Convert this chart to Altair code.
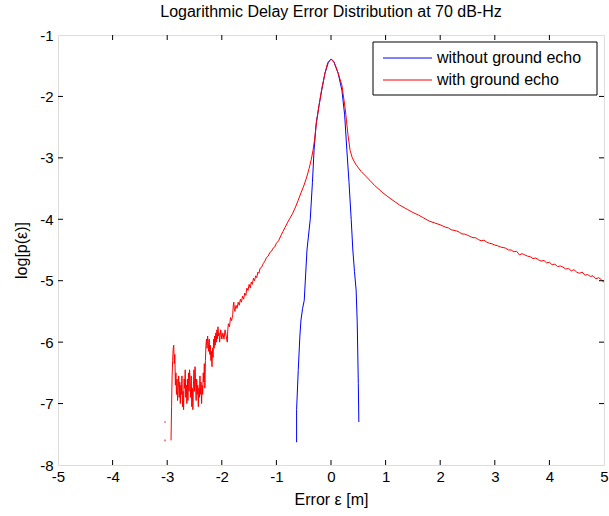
import altair as alt
import pandas as pd

# Delay error distribution without ground echo (blue)
blue_x = [-0.63, -0.63, -0.60, -0.57, -0.55, -0.52, -0.49, -0.44, -0.38, -0.34,
          -0.31, -0.27, -0.22, -0.17, -0.11, -0.05, 0.0, 0.05, 0.13, 0.20,
          0.25, 0.29, 0.33, 0.37, 0.40, 0.43, 0.46, 0.48, 0.50, 0.51]
blue_y = [-7.63, -7.10, -6.46, -5.90, -5.64, -5.45, -5.32, -4.50, -4.00, -3.40,
          -2.87, -2.43, -2.15, -1.90, -1.62, -1.45, -1.39, -1.43, -1.62, -1.90,
          -2.30, -2.87, -3.40, -4.00, -4.50, -4.85, -5.15, -5.67, -6.67, -7.30]

# With ground echo (red): sparse, noisy far-left tail
red_tail_x = [-2.93, -2.92, -2.91, -2.90, -2.89, -2.88, -2.87, -2.86, -2.85, -2.84,
              -2.83, -2.82, -2.81, -2.80, -2.79, -2.78, -2.77, -2.76, -2.75, -2.74,
              -2.73, -2.72, -2.71, -2.70, -2.69, -2.68, -2.67, -2.66, -2.65, -2.64,
              -2.63, -2.62, -2.61, -2.60, -2.59, -2.58, -2.57, -2.56, -2.55, -2.54,
              -2.53, -2.52, -2.51, -2.50, -2.49, -2.48, -2.47, -2.46, -2.45, -2.44,
              -2.43, -2.42, -2.41, -2.40, -2.39, -2.38, -2.37, -2.36, -2.35, -2.34,
              -2.33, -2.32, -2.31, -2.30, -2.29, -2.28, -2.27, -2.26, -2.25, -2.24,
              -2.23, -2.22, -2.21, -2.20, -2.19, -2.18, -2.17, -2.16, -2.15, -2.14,
              -2.13, -2.12, -2.11, -2.10, -2.09, -2.08, -2.07, -2.06, -2.05, -2.04,
              -2.03, -2.02, -2.00, -1.98, -1.96, -1.94, -1.92, -1.90, -1.89, -1.88,
              -1.86, -1.84, -1.82, -1.80, -1.79, -1.78, -1.77, -1.76, -1.74, -1.72]
red_tail_y = [-7.60, -7.05, -6.55, -6.30, -6.10, -6.05, -6.35, -6.20, -6.70, -6.50,
              -6.85, -6.60, -6.95, -6.75, -6.55, -6.90, -6.65, -7.00, -6.70, -6.85,
              -6.55, -7.05, -6.80, -7.10, -6.60, -6.75, -6.45, -6.90, -6.70, -7.00,
              -6.60, -6.95, -6.50, -6.80, -6.45, -6.65, -6.90, -6.55, -7.05, -6.75,
              -7.10, -6.70, -6.45, -6.80, -6.40, -6.65, -6.95, -6.60, -6.85, -6.70,
              -7.05, -6.75, -6.90, -6.55, -6.85, -6.65, -7.00, -6.70, -6.85, -6.50,
              -6.65, -6.35, -6.75, -6.30, -6.05, -5.95, -6.10, -5.90, -6.00, -6.15,
              -5.95, -6.20, -6.05, -6.30, -6.15, -6.40, -6.10, -6.25, -5.95, -6.10,
              -5.90, -6.05, -5.85, -6.00, -5.80, -5.95, -5.75, -5.90, -5.85, -6.00,
              -5.90, -5.80, -5.95, -5.85, -5.95, -5.80, -5.90, -6.00, -5.80, -5.70,
              -5.75, -5.60, -5.65, -5.55, -5.40, -5.35, -5.45, -5.50, -5.40, -5.45]

# With ground echo (red): left flank, peak and near right flank
red_body_x = [-1.70, -1.68, -1.66, -1.64, -1.62, -1.60, -1.58, -1.56, -1.54, -1.52,
              -1.50, -1.48, -1.46, -1.44, -1.42, -1.40, -1.38, -1.36, -1.34, -1.32,
              -1.30, -1.27, -1.24, -1.21, -1.18, -1.15, -1.12, -1.09, -1.06, -1.03,
              -1.00, -0.96, -0.92, -0.88, -0.84, -0.80, -0.75, -0.70, -0.65, -0.60,
              -0.55, -0.50, -0.45, -0.40, -0.36, -0.33, -0.30, -0.27, -0.22, -0.17,
              -0.11, -0.06, 0.00, 0.06, 0.13, 0.20, 0.26, 0.31, 0.35, 0.39,
              0.45, 0.55, 0.65, 0.80, 0.95, 1.10, 1.26, 1.40, 1.50, 1.60,
              1.70, 1.80, 1.90, 2.00]
red_body_y = [-5.35, -5.40, -5.30, -5.35, -5.25, -5.30, -5.20, -5.24, -5.12, -5.16,
              -5.06, -5.12, -5.02, -5.06, -4.96, -5.00, -4.92, -4.95, -4.86, -4.88,
              -4.80, -4.78, -4.72, -4.68, -4.62, -4.60, -4.54, -4.52, -4.47, -4.45,
              -4.39, -4.35, -4.27, -4.20, -4.13, -4.06, -3.98, -3.90, -3.80, -3.69,
              -3.57, -3.46, -3.33, -3.17, -3.02, -2.88, -2.70, -2.45, -2.15, -1.88,
              -1.62, -1.45, -1.39, -1.45, -1.62, -1.82, -2.20, -2.62, -2.88, -3.00,
              -3.10, -3.22, -3.31, -3.45, -3.57, -3.67, -3.77, -3.84, -3.89, -3.93,
              -3.98, -4.03, -4.06, -4.09]

# With ground echo (red): slowly decaying right tail
red_right_x = [2.05, 2.10, 2.15, 2.20, 2.25, 2.30, 2.35, 2.40, 2.45, 2.50,
               2.55, 2.60, 2.65, 2.70, 2.75, 2.80, 2.85, 2.90, 2.95, 3.00,
               3.05, 3.10, 3.15, 3.20, 3.25, 3.30, 3.35, 3.40, 3.45, 3.50,
               3.55, 3.60, 3.65, 3.70, 3.75, 3.80, 3.85, 3.90, 3.95, 4.00,
               4.05, 4.10, 4.15, 4.20, 4.25, 4.30, 4.35, 4.40, 4.45, 4.50,
               4.55, 4.60, 4.65, 4.70, 4.75, 4.80, 4.85, 4.90, 4.95, 5.00]
red_right_y = [-4.11, -4.13, -4.14, -4.17, -4.18, -4.19, -4.21, -4.24, -4.24, -4.26,
               -4.28, -4.30, -4.30, -4.33, -4.35, -4.34, -4.37, -4.39, -4.40, -4.42,
               -4.43, -4.45, -4.46, -4.47, -4.50, -4.50, -4.53, -4.52, -4.58, -4.56,
               -4.58, -4.60, -4.61, -4.64, -4.63, -4.66, -4.68, -4.67, -4.71, -4.70,
               -4.74, -4.73, -4.77, -4.76, -4.78, -4.81, -4.80, -4.84, -4.82, -4.86,
               -4.88, -4.86, -4.91, -4.90, -4.93, -4.92, -4.97, -4.95, -4.98, -5.03]

# isolated histogram bins left of the main red trace
red_dot_x = [-3.04, -3.04]
red_dot_y = [-7.60, -7.30]

series_names = ["without ground echo", "with ground echo"]
series_colors = ["#0000ff", "#ff0000"]

x_ticks = [-5, -4, -3, -2, -1, 0, 1, 2, 3, 4, 5]
y_ticks = [-8, -7, -6, -5, -4, -3, -2, -1]

title_text = "Logarithmic Delay Error Distribution at 70 dB-Hz"
x_title = "Error \u03b5 [m]"
y_title = "log[p(\u03b5)]"

FONT = "Liberation Sans"
W, H = 546, 430

red_x = red_tail_x + red_body_x + red_right_x
red_y = red_tail_y + red_body_y + red_right_y

rows = []
for i, (x, y) in enumerate(zip(blue_x, blue_y)):
    rows.append({"series": series_names[0], "i": i, "x": x, "y": y})
for i, (x, y) in enumerate(zip(red_x, red_y)):
    rows.append({"series": series_names[1], "i": i, "x": x, "y": y})
lines_df = pd.DataFrame(rows)

xs = alt.Scale(domain=[x_ticks[0], x_ticks[-1]], nice=False, zero=False)
ys = alt.Scale(domain=[y_ticks[0], y_ticks[-1]], nice=False, zero=False)
cs = alt.Scale(domain=series_names, range=series_colors)

axis_common = dict(ticks=False, domain=False, grid=False, labelFont=FONT,
                   labelFontSize=15, labelColor="black", labelFlush=False,
                   labelExpr="'' + datum.value", titleFont=FONT, titleFontSize=16,
                   titleFontWeight="normal", titleColor="black")
x_axis = alt.Axis(values=x_ticks, title=x_title, labelPadding=4, titlePadding=7,
                  **axis_common)
y_axis = alt.Axis(values=y_ticks, title=y_title, labelPadding=5, titlePadding=10,
                  **axis_common)

curves = alt.Chart(lines_df).mark_line(strokeWidth=1, clip=True).encode(
    x=alt.X("x:Q", scale=xs, axis=x_axis),
    y=alt.Y("y:Q", scale=ys, axis=y_axis),
    color=alt.Color("series:N", scale=cs, legend=None),
    order="i:Q",
    detail="series:N",
)

dots = alt.Chart(pd.DataFrame({"x": red_dot_x, "y": red_dot_y})).mark_square(
    size=3, color=series_colors[1], opacity=0.6
).encode(x=alt.X("x:Q", scale=xs), y=alt.Y("y:Q", scale=ys))

# inward tick marks on all four sides of the box
xt = pd.DataFrame({"t": x_ticks[1:-1]})
yt = pd.DataFrame({"t": y_ticks[1:-1]})
tick_style = dict(color="black", strokeWidth=1)
ticks_bottom = alt.Chart(xt).mark_rule(**tick_style).encode(
    x=alt.X("t:Q", scale=xs), y=alt.value(H), y2=alt.value(H - 5))
ticks_top = alt.Chart(xt).mark_rule(**tick_style).encode(
    x=alt.X("t:Q", scale=xs), y=alt.value(0), y2=alt.value(5))
ticks_left = alt.Chart(yt).mark_rule(**tick_style).encode(
    y=alt.Y("t:Q", scale=ys), x=alt.value(0), x2=alt.value(5))
ticks_right = alt.Chart(yt).mark_rule(**tick_style).encode(
    y=alt.Y("t:Q", scale=ys), x=alt.value(W), x2=alt.value(W - 5))

# legend box in the upper right corner
LX0, LX1, LY0, LY1 = 315, 539, 7, 60
legend_box = alt.Chart(pd.DataFrame({"a": [0]})).mark_rect(
    fill="white", stroke="black", strokeWidth=1
).encode(x=alt.value(LX0), x2=alt.value(LX1), y=alt.value(LY0), y2=alt.value(LY1))

legend_layers = []
for k, (name, col) in enumerate(zip(series_names, series_colors)):
    yy = 23 + 22 * k
    one = alt.Chart(pd.DataFrame({"name": [name]}))
    legend_layers.append(one.mark_rule(color=col, strokeWidth=1).encode(
        x=alt.value(LX0 + 10), x2=alt.value(LX0 + 59), y=alt.value(yy)))
    legend_layers.append(one.mark_text(
        align="left", baseline="middle", font=FONT, fontSize=16, color="black"
    ).encode(x=alt.value(LX0 + 64), y=alt.value(yy), text="name:N"))

chart = alt.layer(
    curves, dots, ticks_bottom, ticks_top, ticks_left, ticks_right,
    legend_box, *legend_layers
).properties(
    width=W, height=H,
    title=alt.TitleParams(title_text, font=FONT, fontSize=16, fontWeight="normal",
                          color="black", anchor="middle", offset=8),
    autosize=alt.AutoSizeParams(type="none"),
    padding={"left": 58, "top": 35, "right": 5, "bottom": 51},
).configure_view(
    stroke="black", strokeWidth=1
).configure(background="white")

chart.save("out.html", embed_options={"renderer": "svg", "actions": False})
